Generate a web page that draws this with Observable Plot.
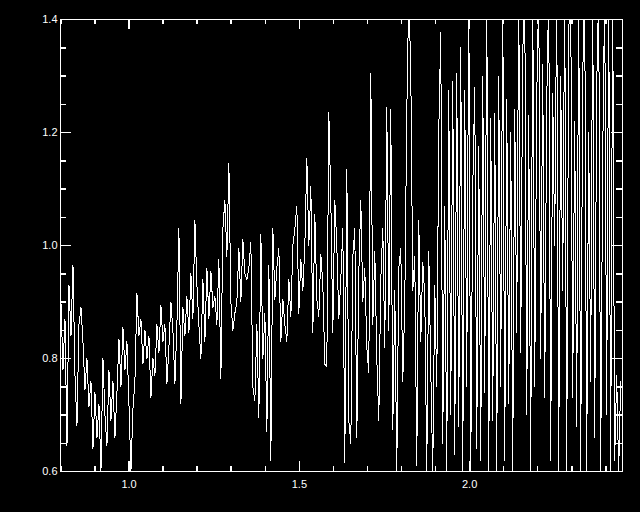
<!DOCTYPE html>
<html>
<head>
<meta charset="utf-8">
<script src="https://cdn.jsdelivr.net/npm/d3@7"></script>
<script src="https://cdn.jsdelivr.net/npm/@observablehq/plot@0.6"></script>
<style>
  html, body { margin: 0; padding: 0; background: #000; }
  #chart { width: 640px; height: 512px; }
  #chart svg { shape-rendering: crispEdges; }
</style>
</head>
<body>
<div id="chart"></div>
<script>
// Sampling grid of the spectrum (wavelength, microns)
const wavelengthStart = 0.80;
const wavelengthStep = 0.00587;

// Flux values
const flux = [
  0.90, 0.78, 0.87, 0.645, 0.93, 0.84, 0.965, 0.77, 0.68, 0.86,
  0.89, 0.83, 0.745, 0.80, 0.715, 0.76, 0.64, 0.74, 0.66, 0.72,
  0.60, 0.80, 0.70, 0.645, 0.78, 0.69, 0.76, 0.66, 0.74, 0.835,
  0.75, 0.855, 0.78, 0.83, 0.72, 0.60, 0.71, 0.76, 0.915, 0.84,
  0.87, 0.79, 0.85, 0.80, 0.84, 0.73, 0.80, 0.77, 0.86, 0.81,
  0.895, 0.83, 0.86, 0.755, 0.82, 0.90, 0.85, 0.755, 0.86, 1.03,
  0.72, 0.89, 0.84, 0.91, 0.845, 0.95, 0.87, 1.045, 0.93, 0.86,
  0.80, 0.94, 0.83, 0.96, 0.87, 0.955, 0.89, 0.91, 0.86, 0.975,
  0.765, 1.03, 1.08, 0.98, 1.145, 0.90, 0.85, 0.88, 0.90, 0.995,
  0.90, 1.01, 0.95, 0.94, 0.96, 1.005, 0.75, 0.725, 0.86, 0.695,
  1.02, 0.80, 0.88, 0.67, 0.965, 0.62, 1.03, 0.905, 0.96, 0.995,
  0.83, 0.905, 0.86, 0.83, 0.94, 0.875, 1.00, 1.03, 1.07, 0.88,
  0.975, 0.92, 1.00, 1.155, 1.00, 1.105, 0.845, 1.055, 0.905, 0.875,
  0.985, 0.93, 0.79, 0.785, 1.235, 1.08, 0.845, 1.08, 1.00, 0.87,
  0.94, 1.03, 0.615, 1.135, 0.69, 0.65, 0.98, 1.03, 0.66, 0.95,
  1.08, 0.90, 0.96, 0.82, 0.775, 1.305, 0.86, 0.99, 0.80, 0.69,
  0.94, 1.03, 0.82, 1.245, 0.85, 1.24, 0.675, 0.92, 0.60, 0.96,
  0.995, 0.76, 0.90, 1.235, 1.45, 1.31, 0.92, 0.98, 0.61, 1.045,
  0.83, 0.97, 0.91, 0.60, 0.99, 0.78, 0.60, 0.93, 0.75, 1.20,
  1.377, 0.65, 1.07, 0.60, 1.275, 0.70, 1.29, 0.63, 1.305, 0.68,
  1.35, 0.60, 1.275, 0.75, 1.45, 0.60, 1.10, 1.28, 0.64, 1.175,
  0.62, 1.30, 0.74, 1.45, 0.60, 1.225, 0.69, 1.233, 0.60, 1.30,
  0.75, 1.45, 0.62, 1.258, 0.72, 1.20, 0.60, 1.24, 0.845, 1.45,
  0.81, 1.34, 1.45, 0.70, 1.23, 0.60, 1.45, 0.75, 1.26, 1.45,
  0.80, 1.32, 0.73, 1.25, 1.45, 0.62, 1.27, 1.00, 1.45, 0.60,
  1.30, 0.92, 1.45, 0.60, 1.38, 1.45, 0.73, 1.22, 0.68, 1.45,
  0.60, 1.30, 1.45, 0.60, 1.20, 0.76, 1.45, 0.66, 1.28, 1.45,
  0.60, 1.15, 1.45, 0.70, 1.45, 0.60, 1.45, 0.62, 0.77, 0.60,
  0.76
];

const xDomain = [0.7986, 2.449];
const yDomain = [0.6, 1.4];
const xMajorTicks = [1.0, 1.5, 2.0];
const xMinorTicks = [0.8, 0.9, 1.1, 1.2, 1.3, 1.4, 1.6, 1.7, 1.8, 1.9, 2.1, 2.2, 2.3, 2.4];
const yMajorTicks = [0.6, 0.8, 1.0, 1.2, 1.4];
const yMinorTicks = [0.65, 0.7, 0.75, 0.85, 0.9, 0.95, 1.05, 1.1, 1.15, 1.25, 1.3, 1.35];

const data = flux.map((f, i) => ({ wl: wavelengthStart + i * wavelengthStep, f }));

const W = 640, H = 512;
const mL = 60, mR = 18, mT = 19, mB = 41;
const pw = W - mL - mR, ph = H - mT - mB;
const majLen = 10, minLen = 5;

const fontFamily = "'Liberation Sans', 'DejaVu Sans', sans-serif";

const chart = Plot.plot({
  width: W,
  height: H,
  marginLeft: mL,
  marginRight: mR,
  marginTop: mT,
  marginBottom: mB,
  style: { background: "black", color: "white", fontFamily, fontSize: "11px" },
  x: { domain: xDomain, label: null },
  y: { domain: yDomain, label: null },
  marks: [
    Plot.line(data, { x: "wl", y: "f", stroke: "white", strokeWidth: 1, clip: true }),
    Plot.frame({ stroke: "white", strokeWidth: 1 }),
    // bottom ticks
    Plot.tickX(xMajorTicks, { x: d => d, stroke: "white", strokeWidth: 1.5, insetTop: ph - majLen }),
    Plot.tickX(xMinorTicks, { x: d => d, stroke: "white", strokeWidth: 1.5, insetTop: ph - minLen }),
    // top ticks
    Plot.tickX(xMajorTicks, { x: d => d, stroke: "white", strokeWidth: 1.5, insetBottom: ph - majLen }),
    Plot.tickX(xMinorTicks, { x: d => d, stroke: "white", strokeWidth: 1.5, insetBottom: ph - minLen }),
    // left ticks
    Plot.tickY(yMajorTicks, { y: d => d, stroke: "white", strokeWidth: 1.5, insetRight: pw - majLen - 1 }),
    Plot.tickY(yMinorTicks, { y: d => d, stroke: "white", strokeWidth: 1.5, insetRight: pw - minLen - 1 }),
    // right ticks
    Plot.tickY(yMajorTicks, { y: d => d, stroke: "white", strokeWidth: 1.5, insetLeft: pw - majLen - 1 }),
    Plot.tickY(yMinorTicks, { y: d => d, stroke: "white", strokeWidth: 1.5, insetLeft: pw - minLen - 1 }),
    Plot.axisX({ ticks: xMajorTicks, tickFormat: d3.format(".1f"), tickSize: 0, tickPadding: 9, fontSize: 11 }),
    Plot.axisY({ ticks: yMajorTicks, tickFormat: d3.format(".1f"), tickSize: 0, tickPadding: 3, fontSize: 11 })
  ]
});

document.getElementById("chart").appendChild(chart);
</script>
</body>
</html>
